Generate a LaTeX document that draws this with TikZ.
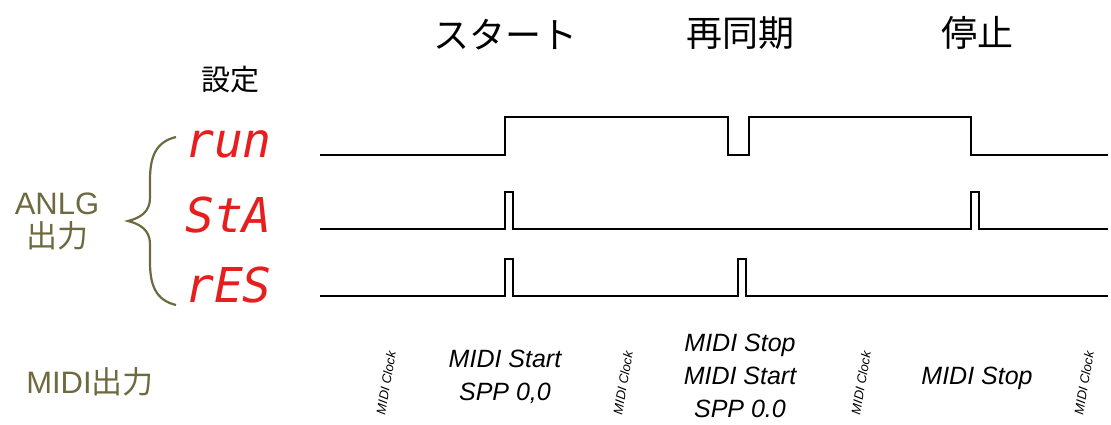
\documentclass[tikz,border=0pt]{standalone}
\usepackage{fontspec}
\setmainfont{Liberation Sans}
\newfontfamily\jp{Noto Sans CJK JP}
\newfontfamily\segfont{DejaVu Sans Mono}
\definecolor{olive}{RGB}{110,106,64}
\definecolor{segred}{RGB}{230,30,30}
\begin{document}
\begin{tikzpicture}[x=1pt,y=-1pt,
  wave/.style={line width=2.4pt,line join=miter},
  head/.style={font=\jp\fontsize{36}{40}\selectfont},
  seg/.style={text=segred,font=\segfont\fontsize{48}{48}\selectfont\slshape,anchor=base west,inner sep=0pt},
  ol/.style={text=olive,font=\fontsize{31}{31}\selectfont,align=center},
  msg/.style={font=\fontsize{25}{33}\selectfont\itshape,align=center},
  clk/.style={font=\fontsize{13}{13}\selectfont\itshape,rotate=80}]
\useasboundingbox (0,0) rectangle (1111,424);
% headings
\node[head] (hstart) at (505,35) {スタート};
\node[head] (hresync) at (740,33) {再同期};
\node[head] (hstop) at (977,33) {停止};
\node[font=\jp\fontsize{29}{30}\selectfont] (settei) at (230,80) {設定};
% left labels
\node[ol] (anlg) at (57,221) {ANLG\\[2pt]{\jp 出力}};
\node[ol] (midiout) at (90,382) {MIDI{\jp 出力}};
\draw[olive,line width=2.2pt] (176,137) .. controls (155,142) and (150,158) .. (150,180)
  -- (150,198) .. controls (150,212) and (140,218) .. (128,221)
  .. controls (140,224) and (150,230) .. (150,244) -- (150,262)
  .. controls (150,284) and (155,300) .. (176,305);
\coordinate (brace) at (128,221);
% segment labels
\node[seg] (run) at (185,157) {run};
\node[seg] (sta) at (185,232) {StA};
\node[seg] (res) at (185,302) {rES};
% waveforms
\draw[wave] (320,155) -- (505,155) -- (505,117) -- (728,117) -- (728,155) -- (749,155) -- (749,117) -- (971,117) -- (971,155) -- (1108,155);
\draw[wave] (320,229) -- (505,229) -- (505,192) -- (513,192) -- (513,229) -- (971,229) -- (971,192) -- (979,192) -- (979,229) -- (1108,229);
\draw[wave] (320,296) -- (505,296) -- (505,259) -- (513,259) -- (513,296) -- (738,296) -- (738,259) -- (746,259) -- (746,296) -- (1108,296);
% MIDI messages
\node[msg] (m1) at (505,377) {MIDI Start\\SPP 0,0};
\node[msg] (m2) at (740,376) {MIDI Stop\\MIDI Start\\SPP 0.0};
\node[msg] (m3) at (977,378) {MIDI Stop};
\node[clk] (c1) at (386,383) {MIDI Clock};
\node[clk] (c2) at (623,383) {MIDI Clock};
\node[clk] (c3) at (861,383) {MIDI Clock};
\node[clk] (c4) at (1084,383) {MIDI Clock};
\end{tikzpicture}
\end{document}
